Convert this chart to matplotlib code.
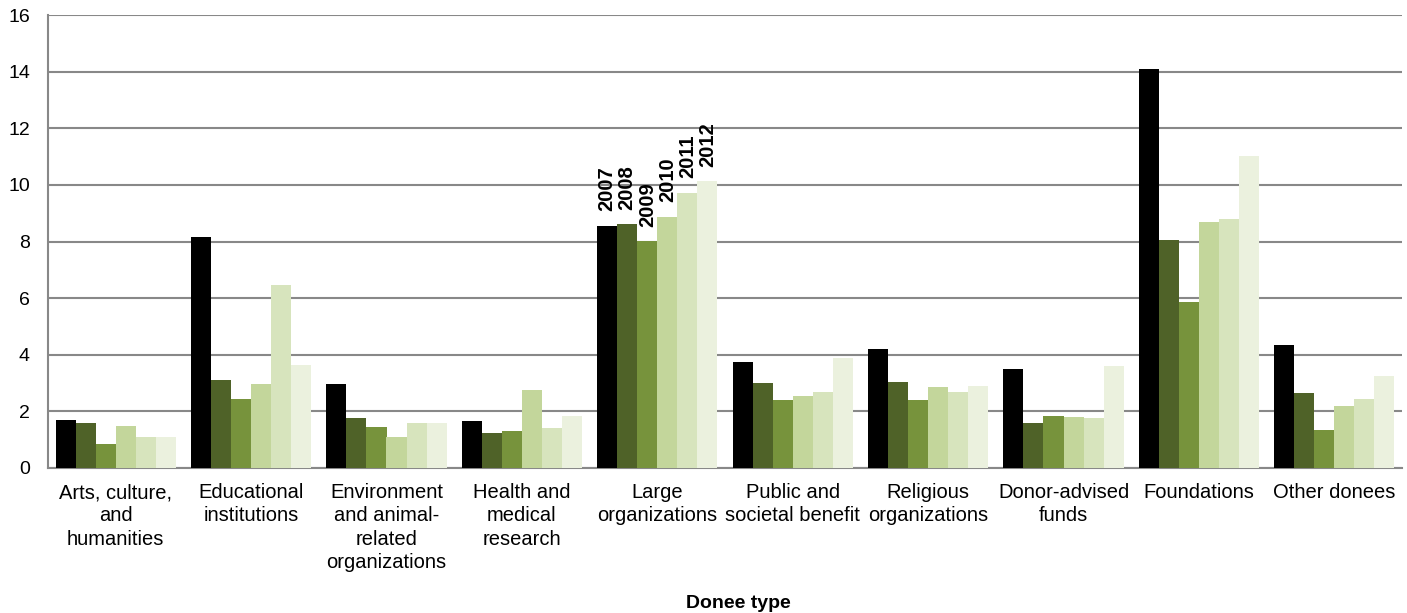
import matplotlib
matplotlib.use("Agg")
import matplotlib.pyplot as plt
import numpy as np

categories = [
    "Arts, culture,\nand\nhumanities",
    "Educational\ninstitutions",
    "Environment\nand animal-\nrelated\norganizations",
    "Health and\nmedical\nresearch",
    "Large\norganizations",
    "Public and\nsocietal benefit",
    "Religious\norganizations",
    "Donor-advised\nfunds",
    "Foundations",
    "Other donees",
]
years = ["2007", "2008", "2009", "2010", "2011", "2012"]
colors = ["#000000", "#4f6228", "#77933c", "#c3d69b", "#d7e4bd", "#ebf1de"]

v2007 = [1.70, 8.15, 2.95, 1.65, 8.56, 3.75, 4.20, 3.50, 14.08, 4.35]
v2008 = [1.60, 3.10, 1.75, 1.25, 8.62, 3.00, 3.05, 1.60, 8.05, 2.65]
v2009 = [0.85, 2.45, 1.45, 1.30, 8.02, 2.40, 2.40, 1.85, 5.85, 1.35]
v2010 = [1.50, 2.95, 1.10, 2.75, 8.88, 2.55, 2.85, 1.80, 8.70, 2.20]
v2011 = [1.10, 6.45, 1.60, 1.40, 9.73, 2.70, 2.70, 1.75, 8.80, 2.45]
v2012 = [1.10, 3.65, 1.60, 1.85, 10.12, 3.90, 2.90, 3.60, 11.02, 3.25]
series = [v2007, v2008, v2009, v2010, v2011, v2012]

plt.rcParams["font.family"] = ["Liberation Sans", "DejaVu Sans"]

fig = plt.figure(figsize=(14.07, 6.13), dpi=100)
ax = fig.add_axes([48 / 1407, 1 - 468 / 613, 1354 / 1407, 453 / 613])

x = np.arange(len(categories))
w = 0.148
label_group = 4  # year labels sit above the "Large organizations" bars
for i, (yr, vals, col) in enumerate(zip(years, series, colors)):
    pos = x + (i - 2.5) * w
    ax.bar(pos, vals, width=w, color=col, linewidth=0, zorder=3)
    ax.text(pos[label_group], vals[label_group] + 0.5, yr, rotation=90,
            ha="center", va="bottom", fontsize=14.5, fontweight="bold")

ax.set_xlim(-0.5, len(categories) - 0.5)
ax.set_ylim(0, 16)
ax.set_yticks(np.arange(0, 17, 2))
ax.set_xticks(x)
ax.set_xticklabels(categories, fontsize=14.5, linespacing=1.28)
ax.tick_params(axis="both", length=0)
ax.tick_params(axis="y", pad=13, labelsize=14)
ax.tick_params(axis="x", pad=11)
ax.grid(axis="y", color="#888888", linewidth=1.5, zorder=0)
for s in ("top", "right"):
    ax.spines[s].set_visible(False)
for s in ("left", "bottom"):
    ax.spines[s].set_color("#888888")
    ax.spines[s].set_linewidth(1.5)

fig.text(738 / 1407, 1 - 603 / 613, "Donee type", ha="center", va="center",
         fontsize=14, fontweight="bold")

fig.savefig("out.png", dpi=100)
